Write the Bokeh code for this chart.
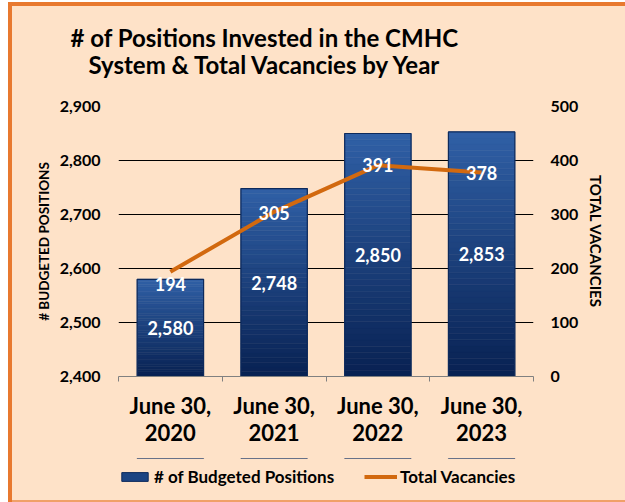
import numpy as np
from bokeh.plotting import figure
from bokeh.layouts import column
from bokeh.models import (Range1d, LinearAxis, FixedTicker, NumeralTickFormatter,
                          ColumnDataSource, Legend, LegendItem, Title)
from bokeh.core.properties import value
from bokeh.embed import file_html
from bokeh.resources import INLINE

# ---- data ----
categories = ["June 30,\n2020", "June 30,\n2021", "June 30,\n2022", "June 30,\n2023"]
budgeted_positions = [2580, 2748, 2850, 2853]
total_vacancies = [194, 305, 391, 378]
left_ticks = [2400, 2500, 2600, 2700, 2800, 2900]
right_ticks = [0, 100, 200, 300, 400, 500]
title_lines = ["# of Positions Invested in the CMHC", "System & Total Vacancies by Year"]
series_names = ["# of Budgeted Positions", "Total Vacancies"]

FONT = "Lato"
BG = "#FEE2C8"
ORANGE = "#D2690F"
BAR_MID = "#1C4482"
BAR_EDGE = "#0D2A5C"

p = figure(width=625, height=458, output_backend="svg", toolbar_location=None, title=None,
           x_range=Range1d(0, len(categories)), y_range=Range1d(left_ticks[0], left_ticks[-1]),
           min_border_left=118, min_border_right=92, min_border_top=106, min_border_bottom=82,
           background_fill_color=BG, border_fill_color=None, outline_line_color=None)
p.extra_y_ranges = {"vac": Range1d(right_ticks[0], right_ticks[-1])}

xs = [i + 0.5 for i in range(len(categories))]
base = left_ticks[0]

# ---- gradient bars ----
N = 40
top_c = np.array([0x30, 0x60, 0xA6])
bot_c = np.array([0x08, 0x21, 0x52])
for k in range(N):
    f0, f1 = k / N, (k + 1) / N
    c = bot_c + (top_c - bot_c) * ((k + 0.5) / N)
    col = "#%02x%02x%02x" % tuple(int(round(v)) for v in c)
    bottoms = [base + (v - base) * f0 for v in budgeted_positions]
    tops = [base + (v - base) * f1 for v in budgeted_positions]
    p.vbar(x=xs, width=0.64, bottom=bottoms, top=tops, fill_color=col,
           line_color=col, line_width=0.6)
p.vbar(x=xs, width=0.64, bottom=base, top=budgeted_positions, fill_color=None,
       line_color=BAR_EDGE, line_width=1.2)

# ---- vacancies line ----
p.line(x=xs, y=total_vacancies, y_range_name="vac", line_color=ORANGE, line_width=4)

# ---- data labels ----
bar_src = ColumnDataSource(dict(x=xs, y=[(base + v) / 2 for v in budgeted_positions],
                                t=[f"{v:,}" for v in budgeted_positions]))
p.text(x="x", y="y", text="t", source=bar_src, text_align="center", text_baseline="middle",
       text_color="white", text_font=value(FONT), text_font_style="bold",
       text_font_size="18px")
vac_src = ColumnDataSource(dict(x=xs, y=total_vacancies, t=[str(v) for v in total_vacancies],
                                off=[12, 1, 0, 1]))
p.text(x="x", y="y", text="t", y_offset="off", source=vac_src, y_range_name="vac",
       text_align="center", text_baseline="middle", text_color="white",
       text_font=value(FONT), text_font_style="bold", text_font_size="18px")

# ---- axes ----
xa = p.xaxis[0]
xa.ticker = FixedTicker(ticks=xs, minor_ticks=list(range(len(categories) + 1)))
xa.major_label_overrides = {x: c for x, c in zip(xs, categories)}
xa.major_tick_out = 0
xa.major_tick_in = 0
xa.minor_tick_out = 5
xa.minor_tick_in = 0
xa.axis_line_color = "#808080"
xa.minor_tick_line_color = "#808080"
xa.major_label_text_font = FONT
xa.major_label_text_font_style = "bold"
xa.major_label_text_font_size = "22px"
xa.major_label_text_line_height = 1.0
xa.major_label_text_color = "black"
xa.major_label_standoff = 10

ya = p.yaxis[0]
ya.ticker = FixedTicker(ticks=left_ticks)
ya.formatter = NumeralTickFormatter(format="0,0")
ya.axis_line_color = None
ya.major_tick_out = 0
ya.major_tick_in = 0
ya.minor_tick_line_color = None
ya.major_label_text_font = FONT
ya.major_label_text_font_style = "bold"
ya.major_label_text_font_size = "16px"
ya.major_label_text_color = "black"
ya.major_label_standoff = 18
ya.axis_label = "# BUDGETED POSITIONS"
ya.axis_label_text_font = FONT
ya.axis_label_text_font_style = "bold"
ya.axis_label_text_font_size = "13.5px"
ya.axis_label_text_color = "black"
ya.axis_label_standoff = 5

ra = LinearAxis(y_range_name="vac", ticker=FixedTicker(ticks=right_ticks),
                axis_label="TOTAL VACANCIES")
ra.axis_line_color = None
ra.major_tick_out = 0
ra.major_tick_in = 0
ra.minor_tick_line_color = None
ra.major_label_text_font = FONT
ra.major_label_text_font_style = "bold"
ra.major_label_text_font_size = "16px"
ra.major_label_text_color = "black"
ra.major_label_standoff = 17
ra.axis_label_text_font = FONT
ra.axis_label_text_font_style = "bold"
ra.axis_label_text_font_size = "15px"
ra.axis_label_text_color = "black"
ra.axis_label_standoff = 6
p.add_layout(ra, "right")

p.xgrid.grid_line_color = None
p.ygrid.ticker = FixedTicker(ticks=left_ticks)
p.ygrid.grid_line_color = "black"
p.ygrid.grid_line_width = 1

# ---- title (line nearest the plot added first) ----
for txt, off, so in [(title_lines[1], -30, 56), (title_lines[0], -48, -64)]:
    p.add_layout(Title(text=txt, align="left", offset=off, standoff=so,
                       text_font=FONT, text_font_style="bold", text_font_size="24px",
                       text_color="black"), "above")

# ---- legend strip (series drawn outside its visible range, used only as legend keys) ----
lf = figure(width=625, height=44, output_backend="svg", toolbar_location=None, title=None,
            x_axis_type=None, y_axis_type=None, x_range=Range1d(0, len(categories)),
            y_range=Range1d(-2, -1),
            min_border_left=118, min_border_right=92, min_border_top=0, min_border_bottom=0,
            outline_line_color=None, border_fill_color=None, background_fill_color=None)
leg_bar = lf.vbar(x=xs, bottom=budgeted_positions, top=budgeted_positions, width=0.64,
                  fill_color=BAR_MID, line_color=BAR_EDGE)
leg_line = lf.line(x=xs, y=total_vacancies, line_color=ORANGE, line_width=4)
legend = Legend(items=[LegendItem(label=series_names[0], renderers=[leg_bar]),
                       LegendItem(label=series_names[1], renderers=[leg_line])],
                orientation="horizontal", location=(0, 15),
                background_fill_alpha=0, border_line_color=None,
                label_text_font=FONT, label_text_font_style="bold", label_text_font_size="17px",
                label_text_color="black", glyph_width=33, glyph_height=11, label_height=16,
                label_standoff=3, spacing=30, padding=0, margin=0)
lf.add_layout(legend, "center")

frame_css = ("linear-gradient(#E8792F,#E8792F) 8px 2px/4px 500px no-repeat, "
             "linear-gradient(#E8792F,#E8792F) 8px 2px/617px 4px no-repeat, "
             "linear-gradient(#F0A068,#F0A068) 8px 500px/617px 2px no-repeat, "
             "linear-gradient(#FEE2C8,#FEE2C8) 12px 6px/613px 494px no-repeat, #FFFFFF")
root = column(p, lf, spacing=0)
root.styles = {"background": frame_css}

open("out.html", "w").write(file_html(root, INLINE))
